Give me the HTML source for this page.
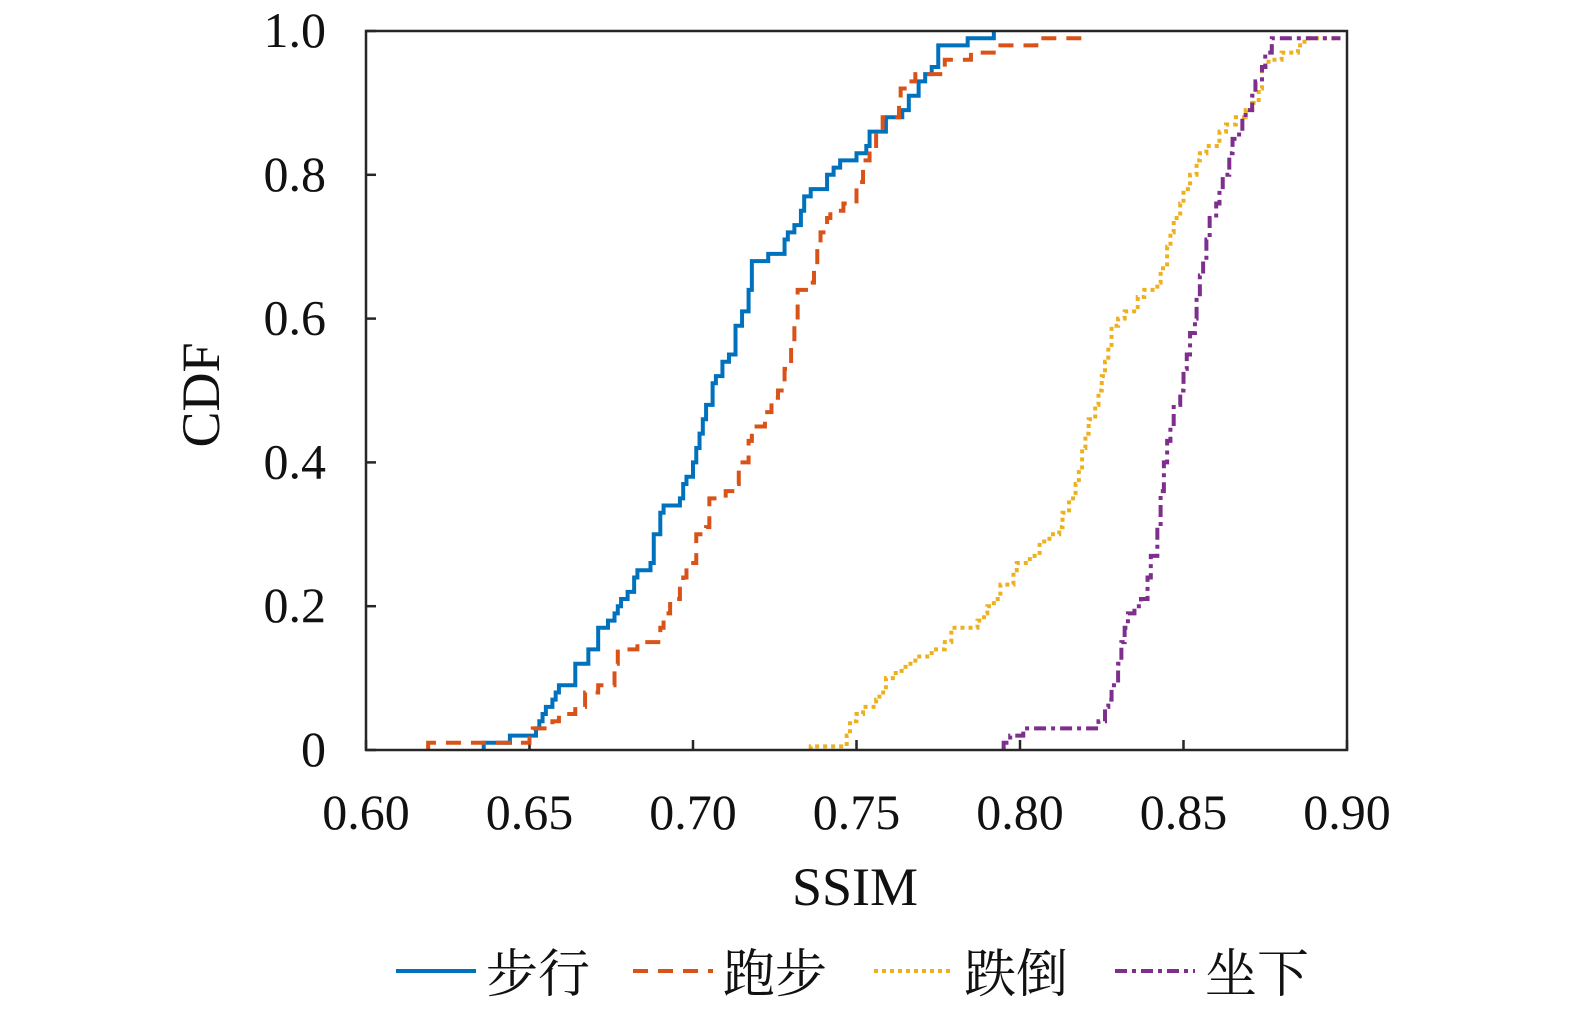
<!DOCTYPE html>
<html><head><meta charset="utf-8"><style>
body{margin:0;background:#fff;}
svg text{font-family:"Liberation Serif","Noto Serif CJK SC",serif;fill:#111;}
</style></head><body>
<svg width="1575" height="1005" viewBox="0 0 1575 1005" xmlns="http://www.w3.org/2000/svg">
<g id="ticks"></g>
<g id="series"></g>
<rect x="366" y="31" width="981" height="719" fill="none" stroke="#262626" stroke-width="2.5"/>
<text x="855" y="905" font-size="54" text-anchor="middle">SSIM</text>
<text x="0" y="0" font-size="54" text-anchor="middle" transform="translate(219,395) rotate(-90)">CDF</text>
<g id="legend"></g>
</svg>
<script>
const xTicks=[0.60,0.65,0.70,0.75,0.80,0.85,0.90];
const xTickLabels=["0.60","0.65","0.70","0.75","0.80","0.85","0.90"];
const yTicks=[0,0.2,0.4,0.6,0.8,1.0];
const yTickLabels=["0","0.2","0.4","0.6","0.8","1.0"];
const seriesNames=["步行","跑步","跌倒","坐下"];
const walkX=[0.636,0.644,0.652,0.653,0.654,0.655,0.657,0.658,0.659,0.664,0.668,0.671,0.674,0.676,0.677,0.678,0.680,0.682,0.683,0.687,0.688,0.690,0.691,0.696,0.697,0.698,0.700,0.701,0.702,0.703,0.704,0.706,0.707,0.709,0.711,0.713,0.715,0.717,0.718,0.723,0.728,0.729,0.731,0.733,0.734,0.736,0.741,0.743,0.745,0.750,0.753,0.754,0.759,0.764,0.766,0.769,0.771,0.773,0.775,0.784,0.792];
const walkY=[0.01,0.02,0.03,0.04,0.05,0.06,0.07,0.08,0.09,0.12,0.14,0.17,0.18,0.19,0.20,0.21,0.22,0.24,0.25,0.26,0.30,0.33,0.34,0.35,0.37,0.38,0.40,0.42,0.44,0.46,0.48,0.51,0.52,0.54,0.55,0.59,0.61,0.64,0.68,0.69,0.71,0.72,0.73,0.75,0.77,0.78,0.80,0.81,0.82,0.83,0.84,0.86,0.88,0.89,0.91,0.93,0.94,0.95,0.98,0.99,1.0];
const runX=[0.619,0.650,0.651,0.657,0.659,0.664,0.667,0.671,0.676,0.677,0.683,0.690,0.691,0.693,0.696,0.697,0.698,0.701,0.704,0.705,0.710,0.713,0.714,0.717,0.718,0.722,0.724,0.726,0.728,0.730,0.731,0.732,0.736,0.737,0.738,0.739,0.741,0.742,0.746,0.750,0.752,0.754,0.756,0.758,0.763,0.7635,0.766,0.768,0.777,0.785,0.794,0.805,0.819];
const runY=[0.01,0.02,0.03,0.04,0.05,0.06,0.08,0.09,0.12,0.14,0.15,0.17,0.19,0.21,0.23,0.24,0.26,0.30,0.31,0.35,0.36,0.37,0.40,0.43,0.45,0.47,0.49,0.50,0.53,0.56,0.59,0.64,0.65,0.67,0.70,0.72,0.74,0.75,0.76,0.79,0.82,0.84,0.86,0.88,0.90,0.92,0.93,0.94,0.96,0.97,0.98,0.99,0.99];
const fallX=[0.736,0.747,0.748,0.750,0.752,0.756,0.757,0.759,0.762,0.765,0.768,0.773,0.777,0.779,0.787,0.789,0.790,0.792,0.794,0.798,0.799,0.803,0.806,0.809,0.812,0.813,0.815,0.817,0.818,0.819,0.820,0.821,0.823,0.824,0.825,0.826,0.827,0.828,0.830,0.832,0.836,0.838,0.842,0.843,0.845,0.846,0.847,0.849,0.850,0.852,0.854,0.855,0.857,0.861,0.863,0.866,0.869,0.871,0.873,0.874,0.876,0.880,0.885,0.887,0.898];
const fallY=[0.005,0.02,0.04,0.05,0.06,0.07,0.08,0.10,0.11,0.12,0.13,0.14,0.15,0.17,0.18,0.19,0.20,0.21,0.23,0.25,0.26,0.27,0.29,0.30,0.31,0.33,0.35,0.37,0.39,0.42,0.44,0.46,0.48,0.50,0.52,0.54,0.56,0.59,0.60,0.61,0.63,0.64,0.65,0.67,0.70,0.72,0.74,0.76,0.78,0.80,0.82,0.83,0.84,0.86,0.87,0.88,0.89,0.90,0.92,0.95,0.96,0.97,0.98,0.99,0.99];
const sitX=[0.795,0.797,0.801,0.824,0.826,0.827,0.828,0.830,0.831,0.832,0.833,0.835,0.837,0.839,0.840,0.842,0.843,0.844,0.845,0.846,0.847,0.849,0.850,0.851,0.852,0.8535,0.854,0.855,0.856,0.857,0.858,0.860,0.861,0.862,0.864,0.865,0.867,0.868,0.869,0.871,0.872,0.874,0.875,0.877,0.898];
const sitY=[0.01,0.02,0.03,0.04,0.06,0.07,0.09,0.12,0.15,0.17,0.19,0.20,0.21,0.24,0.27,0.31,0.36,0.40,0.43,0.45,0.48,0.50,0.53,0.55,0.58,0.60,0.63,0.66,0.68,0.71,0.74,0.76,0.78,0.80,0.83,0.85,0.86,0.88,0.89,0.91,0.93,0.95,0.97,0.99,0.99];

const X0=366,X1=1347,Y0=750,Y1=31;
function sx(v){return X0+(v-0.6)/0.3*(X1-X0);}
function sy(v){return Y0-v*(Y0-Y1);}
const NS="http://www.w3.org/2000/svg";
function mk(t,a,p){const e=document.createElementNS(NS,t);for(const k in a)e.setAttribute(k,a[k]);p.appendChild(e);return e;}
const tg=document.getElementById('ticks');
xTicks.forEach((v,i)=>{
  const l=mk('line',{x1:sx(v),x2:sx(v),y1:Y0,y2:Y0-10,stroke:'#262626','stroke-width':2.5},tg);
  
  
  const t=mk('text',{x:sx(v),y:829,'font-size':50,'text-anchor':'middle'},tg);
  t.textContent=xTickLabels[i];
  
  
});
yTicks.forEach((v,i)=>{
  const l=mk('line',{x1:X0,x2:X0+10,y1:sy(v),y2:sy(v),stroke:'#262626','stroke-width':2.5},tg);
  
  
  const t=mk('text',{x:326,y:sy(v)+16,'font-size':50,'text-anchor':'end'},tg);
  t.textContent=yTickLabels[i];
  
  
});
const styles=[
 {c:'#0072BD',d:''},
 {c:'#D95319',d:'15,10'},
 {c:'#EDB120',d:'4,4'},
 {c:'#7E2F8E',d:'12,5,4,5'}];
const data=[[walkX,walkY],[runX,runY],[fallX,fallY],[sitX,sitY]];
const names=['walk-cdf-line','run-cdf-line','fall-cdf-line','sit-cdf-line'];
const sg=document.getElementById('series');
data.forEach((s,k)=>{
  const xs=s[0],ys=s[1];
  let d='M'+sx(xs[0])+','+sy(0);
  for(let i=0;i<xs.length;i++){
    d+=' L'+sx(xs[i])+','+sy(i?ys[i-1]:0)+' L'+sx(xs[i])+','+sy(ys[i]);
  }
  const p=mk('path',{d:d,fill:'none',stroke:styles[k].c,'stroke-width':4,'stroke-dasharray':styles[k].d},sg);
  
  
});
const lg=document.getElementById('legend');
const lx=[396,633,874,1115];
seriesNames.forEach((n,k)=>{
  const g=mk('g',{},lg);
  
  
  mk('line',{x1:lx[k],x2:lx[k]+80,y1:971,y2:971,stroke:styles[k].c,'stroke-width':4,'stroke-dasharray':styles[k].d},g);
  const t=mk('text',{x:lx[k]+90,y:992,'font-size':52},g);
  t.textContent=n;
});
</script>
</body></html>
